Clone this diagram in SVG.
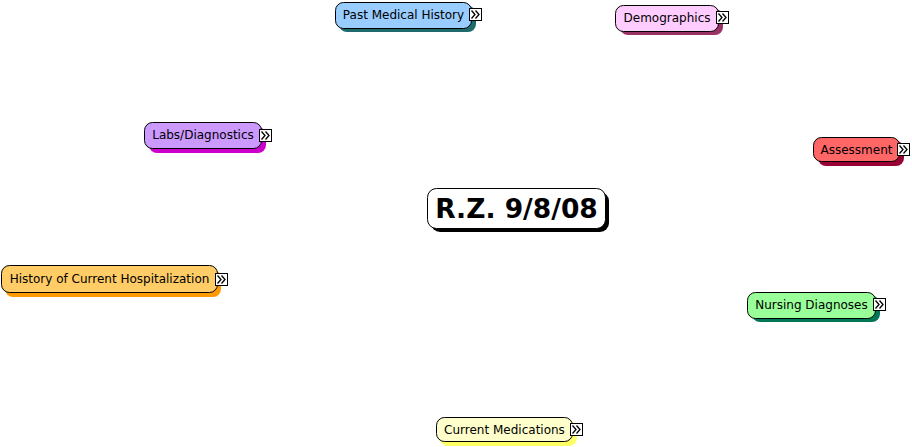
<svg xmlns="http://www.w3.org/2000/svg" width="912" height="447" viewBox="0 0 912 447">
<defs>
<style>
.lbl{font-family:"DejaVu Sans","Verdana",sans-serif;font-size:12px;fill:#000;text-anchor:middle}
.root{font-family:"DejaVu Sans","Verdana",sans-serif;font-size:26.5px;font-weight:bold;fill:#000;text-anchor:middle}
.box{stroke:#000;stroke-width:1}
.ico{fill:#fff;stroke:#000;stroke-width:1}
.chev{fill:none;stroke:#000;stroke-width:1.3}
</style>
<g id="expand">
<rect class="ico" x="0.5" y="0.5" width="12" height="12"/>
<path class="chev" d="M2.5 2.5 L6 6.5 L2.5 10.5 M6.5 2.5 L10 6.5 L6.5 10.5"/>
</g>
</defs>
<rect width="912" height="447" fill="#fff"/>
<g id="connectors"></g>

<g id="root">
<rect x="431" y="192" width="178" height="40" rx="9" fill="#000"/>
<rect class="box" x="427.5" y="188.5" width="178" height="40" rx="9" fill="#fff"/>
<text class="root" x="516.5" y="218">R.Z. 9/8/08</text>
</g>

<g id="past-medical-history">
<rect x="339" y="6" width="137" height="26" rx="8" fill="#1f6b6b"/>
<rect class="box" x="335.5" y="2.5" width="136" height="26" rx="8" fill="#99ccff"/>
<text class="lbl" x="403.5" y="19">Past Medical History</text>
<use href="#expand" x="469" y="8"/>
</g>

<g id="demographics">
<rect x="620" y="9" width="103" height="26" rx="8" fill="#993366"/>
<rect class="box" x="615.5" y="5.5" width="103" height="26" rx="8" fill="#ffccff"/>
<text class="lbl" x="667" y="22">Demographics</text>
<use href="#expand" x="716" y="11"/>
</g>

<g id="labs-diagnostics">
<rect x="149" y="127" width="117" height="26" rx="8" fill="#cc00cc"/>
<rect class="box" x="144.5" y="122.5" width="117" height="26" rx="8" fill="#cc99ff"/>
<text class="lbl" x="203" y="139">Labs/Diagnostics</text>
<use href="#expand" x="259" y="129"/>
</g>

<g id="assessment">
<rect x="818" y="141" width="86" height="25" rx="8" fill="#990033"/>
<rect class="box" x="813.5" y="137.5" width="86" height="24" rx="8" fill="#ff6666"/>
<text class="lbl" x="856.5" y="154">Assessment</text>
<use href="#expand" x="897" y="143"/>
</g>

<g id="history-of-current-hospitalization">
<rect x="5" y="270" width="216" height="27" rx="8" fill="#ff9900"/>
<rect class="box" x="1.5" y="265.5" width="216" height="27" rx="8" fill="#ffcc66"/>
<text class="lbl" x="109.5" y="282.5">History of Current Hospitalization</text>
<use href="#expand" x="215" y="273"/>
</g>

<g id="nursing-diagnoses">
<rect x="752" y="296" width="128" height="26" rx="8" fill="#007755"/>
<rect class="box" x="747.5" y="292.5" width="128" height="26" rx="8" fill="#99ff99"/>
<text class="lbl" x="811.5" y="309">Nursing Diagnoses</text>
<use href="#expand" x="873" y="298"/>
</g>

<g id="current-medications">
<rect x="440" y="421" width="137" height="25" rx="8" fill="#ffff66"/>
<rect class="box" x="436.5" y="417.5" width="136" height="24" rx="8" fill="#ffffcc"/>
<text class="lbl" x="504.5" y="434">Current Medications</text>
<use href="#expand" x="570" y="423"/>
</g>
</svg>
